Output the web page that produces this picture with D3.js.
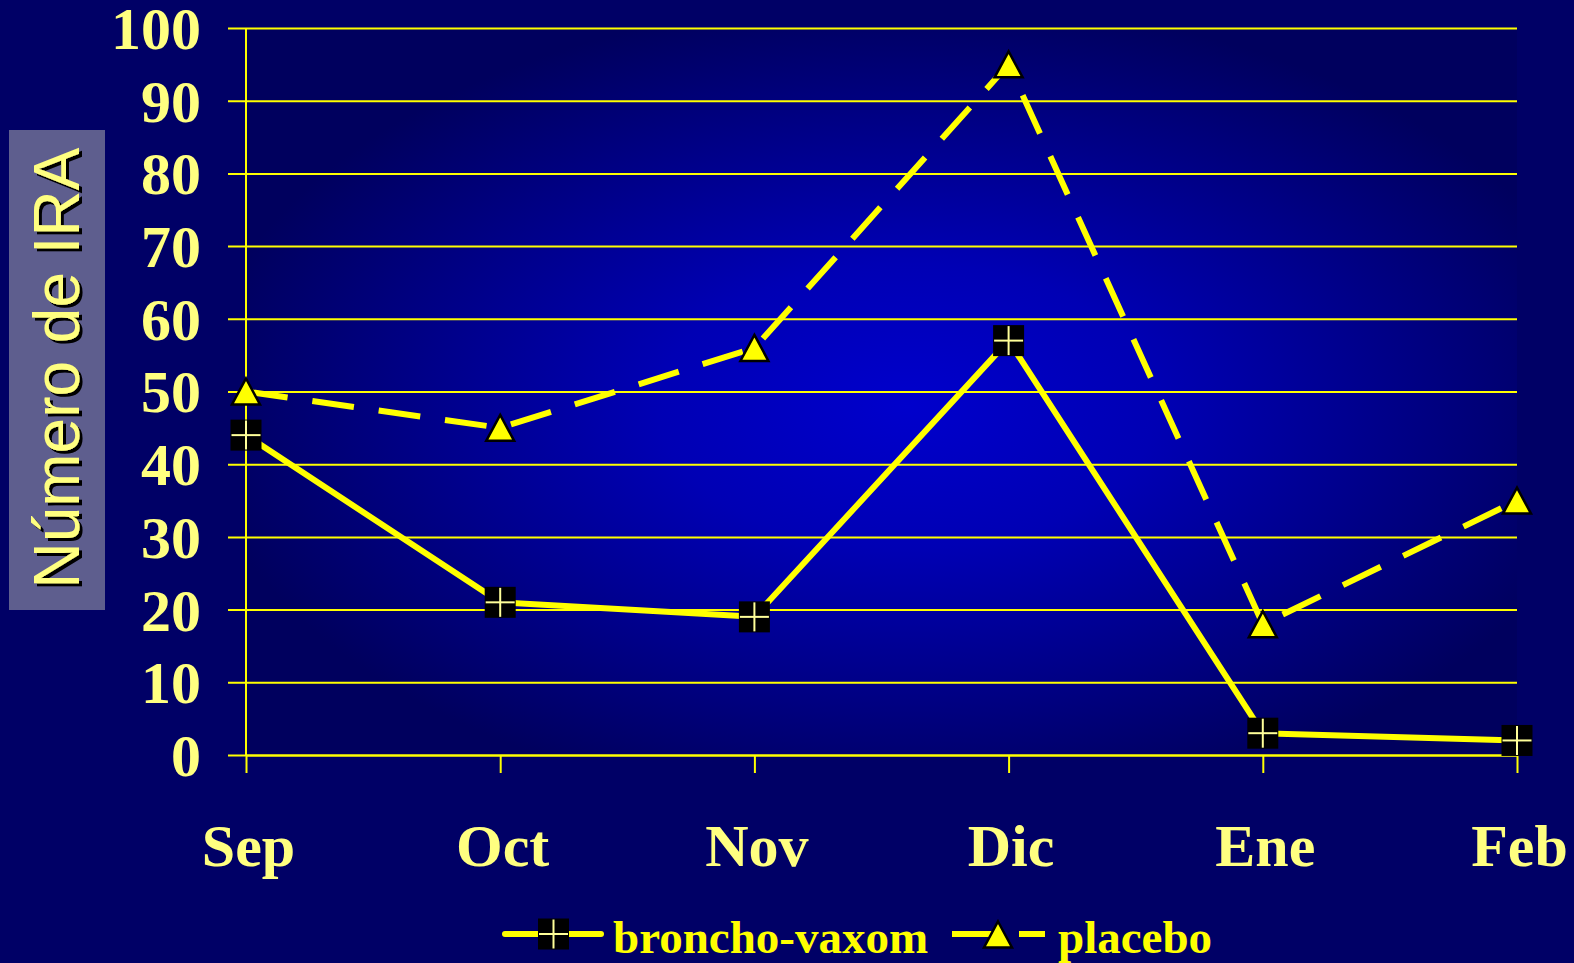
<!DOCTYPE html>
<html>
<head>
<meta charset="utf-8">
<script src="https://cdn.jsdelivr.net/npm/d3@7"></script>
<style>
  html, body { margin: 0; padding: 0; background: #000066; }
  svg { display: block; }
</style>
</head>
<body>
<svg id="chart" width="1574" height="963"></svg>
<script>
// Monthly count of acute respiratory infections (IRA) per group
const categories = ["Sep", "Oct", "Nov", "Dic", "Ene", "Feb"];
const bronchoVaxom = [44, 21, 19, 57, 3, 2];
const placebo = [50, 45, 56, 95, 18, 35];
const yTicks = [0, 10, 20, 30, 40, 50, 60, 70, 80, 90, 100];
const seriesNames = ["broncho-vaxom", "placebo"];

const W = 1574, H = 963;
const plot = { left: 246, right: 1517, top: 28, bottom: 755 };
const tickLen = 18;

const svg = d3.select("#chart");
const defs = svg.append("defs");

// Page background
svg.append("rect").attr("width", W).attr("height", H).attr("fill", "#000066");

// Plot-area fill: light blue at the centre fading to navy at the edges
const grad = defs.append("radialGradient")
  .attr("id", "plotFill")
  .attr("cx", 0.52).attr("cy", 0.52).attr("r", 0.56);
grad.append("stop").attr("offset", "0%").attr("stop-color", "#0000cc");
grad.append("stop").attr("offset", "35%").attr("stop-color", "#0000b4");
grad.append("stop").attr("offset", "100%").attr("stop-color", "#00005e");

// Shadow for the axis title
const shadow = defs.append("filter").attr("id", "titleShadow")
  .attr("x", "-20%").attr("y", "-20%").attr("width", "140%").attr("height", "140%");
shadow.append("feDropShadow")
  .attr("dx", 3).attr("dy", 3).attr("stdDeviation", 0.4)
  .attr("flood-color", "#000000").attr("flood-opacity", 1);

const x = d3.scalePoint().domain(categories).range([plot.left, plot.right]).padding(0);
const y = d3.scaleLinear().domain([0, 100]).range([plot.bottom, plot.top]);

svg.append("rect")
  .attr("x", plot.left).attr("y", plot.top)
  .attr("width", plot.right - plot.left).attr("height", plot.bottom - plot.top)
  .attr("fill", "url(#plotFill)");

const tickColor = "#ffff80";
const lineColor = "#ffff00";
const serif = "'Liberation Serif', 'Times New Roman', serif";

// Horizontal gridlines + value labels (ticks reach left of the axis)
const yAxis = d3.axisLeft(y)
  .tickValues(yTicks)
  .tickSize(plot.right - plot.left + tickLen)
  .tickPadding(plot.left - tickLen - 201)
  .tickFormat(d3.format("d"));

const gy = svg.append("g")
  .attr("transform", `translate(${plot.right},0)`)
  .call(yAxis);
gy.select(".domain").remove();
gy.selectAll(".tick line").attr("stroke", lineColor).attr("stroke-width", 2);
gy.selectAll(".tick text")
  .attr("fill", tickColor)
  .attr("font-family", serif)
  .attr("font-weight", "bold")
  .attr("font-size", 60)
  .attr("dy", "0.34em");

// Category axis with ticks hanging below the zero line
const xAxis = d3.axisBottom(x).tickSize(tickLen).tickSizeOuter(0).tickPadding(50);
const gx = svg.append("g")
  .attr("transform", `translate(0,${plot.bottom})`)
  .call(xAxis);
gx.select(".domain").attr("stroke", lineColor).attr("stroke-width", 2);
gx.selectAll(".tick line").attr("stroke", lineColor).attr("stroke-width", 2);
gx.selectAll(".tick text")
  .attr("fill", tickColor)
  .attr("font-family", serif)
  .attr("font-weight", "bold")
  .attr("font-size", 60)
  .attr("dx", 2);

// Vertical axis line
svg.append("line")
  .attr("x1", plot.left).attr("x2", plot.left)
  .attr("y1", y(100)).attr("y2", y(0))
  .attr("stroke", lineColor).attr("stroke-width", 2);

// Series lines
const line = d3.line().x(d => x(d.cat)).y(d => y(d.v));
const bvPts = categories.map((c, i) => ({ cat: c, v: bronchoVaxom[i] }));
const plPts = categories.map((c, i) => ({ cat: c, v: placebo[i] }));

svg.append("path")
  .datum(plPts)
  .attr("d", line)
  .attr("fill", "none")
  .attr("stroke", lineColor)
  .attr("stroke-width", 6)
  .attr("stroke-dasharray", "42,25")
  .attr("stroke-linejoin", "round");

svg.append("path")
  .datum(bvPts)
  .attr("d", line)
  .attr("fill", "none")
  .attr("stroke", lineColor)
  .attr("stroke-width", 6)
  .attr("stroke-linejoin", "round");

// Marker shapes
const SQ = 31, TRI_W = 28, TRI_H = 26;
function drawSquare(g, cx, cy) {
  g.append("rect")
    .attr("x", cx - SQ / 2).attr("y", cy - SQ / 2)
    .attr("width", SQ).attr("height", SQ)
    .attr("fill", "#000000");
  g.append("line")
    .attr("x1", cx - SQ / 2 + 1).attr("x2", cx + SQ / 2 - 1)
    .attr("y1", cy).attr("y2", cy)
    .attr("stroke", "#ffff99").attr("stroke-width", 2);
  g.append("line")
    .attr("x1", cx).attr("x2", cx)
    .attr("y1", cy - SQ / 2 + 1).attr("y2", cy + SQ / 2 - 1)
    .attr("stroke", "#ffff99").attr("stroke-width", 2);
}
const triPath = `M0,${-TRI_H / 2}L${TRI_W / 2},${TRI_H / 2}L${-TRI_W / 2},${TRI_H / 2}Z`;
function drawTriangle(g, cx, cy) {
  g.append("path")
    .attr("d", triPath)
    .attr("transform", `translate(${cx},${cy})`)
    .attr("fill", "#ffff00")
    .attr("stroke", "#000000")
    .attr("stroke-width", 2.5)
    .attr("stroke-linejoin", "miter");
}

const markers = svg.append("g");
plPts.forEach(d => drawTriangle(markers, x(d.cat), y(d.v)));
bvPts.forEach(d => drawSquare(markers, x(d.cat), y(d.v)));

// Axis title in a shaded box
svg.append("rect")
  .attr("x", 9).attr("y", 130).attr("width", 96).attr("height", 480)
  .attr("fill", "#5e5e8e");
svg.append("g").attr("filter", "url(#titleShadow)")
  .append("text")
  .attr("transform", "translate(79,368) rotate(-90)")
  .attr("text-anchor", "middle")
  .attr("font-family", "'Liberation Sans', Arial, sans-serif")
  .attr("font-size", 64)
  .attr("fill", tickColor)
  .text("Número de IRA");

// Legend
const legend = svg.append("g");
const legY = 934;
legend.append("line")
  .attr("x1", 505).attr("x2", 601).attr("y1", legY).attr("y2", legY)
  .attr("stroke", lineColor).attr("stroke-width", 6).attr("stroke-linecap", "round");
drawSquare(legend, 553.5, legY);
legend.append("text")
  .attr("x", 613).attr("y", 953)
  .attr("font-family", serif).attr("font-weight", "bold").attr("font-size", 47)
  .attr("fill", "#ffff00")
  .text(seriesNames[0]);

legend.append("line")
  .attr("x1", 952).attr("x2", 1045).attr("y1", legY).attr("y2", legY)
  .attr("stroke", lineColor).attr("stroke-width", 6)
  .attr("stroke-dasharray", "42,25");
drawTriangle(legend, 998, legY + 0.5);
legend.append("text")
  .attr("x", 1058).attr("y", 953)
  .attr("font-family", serif).attr("font-weight", "bold").attr("font-size", 47)
  .attr("fill", "#ffff00")
  .text(seriesNames[1]);
</script>
</body>
</html>
